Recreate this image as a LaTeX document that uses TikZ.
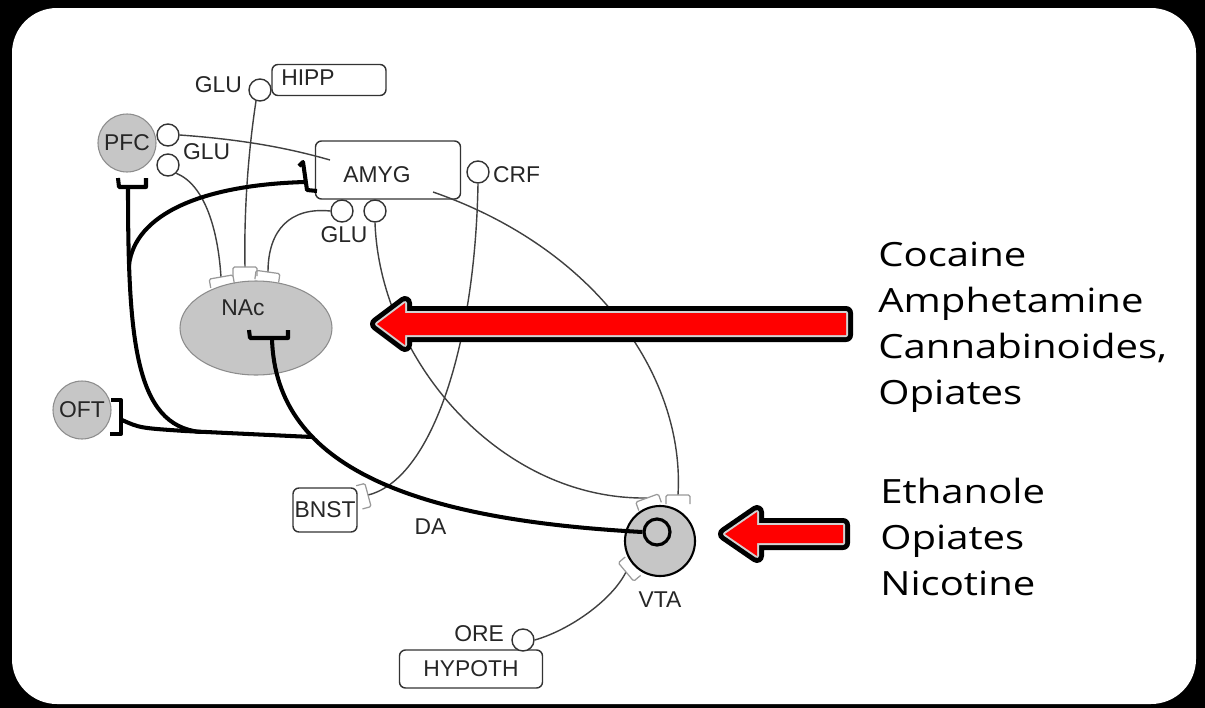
\documentclass[tikz,border=0pt]{standalone}
\usepackage{fontspec}
\setmainfont{Liberation Sans}
\newfontfamily\drugfont[FakeStretch=1.2]{Open Sans}
\usetikzlibrary{shapes.geometric}

\begin{document}
\begin{tikzpicture}[x=0.2mm, y=-0.2mm,
  nucleus/.style={circle, draw=gray!90, fill=gray!45, line width=0.6pt, inner sep=0pt,
    font=\fontsize{13}{15}\selectfont, text=black!85},
  region/.style={draw=black!80, fill=white, rounded corners=1.2mm, line width=0.8pt,
    inner sep=0pt, font=\fontsize{13}{15}\selectfont, text=black!85},
  term/.style={circle, draw=black!80, fill=white, line width=0.8pt, minimum size=4.4mm, inner sep=0pt},
  lbl/.style={font=\fontsize{13}{15}\selectfont, text=black!85, inner sep=0pt},
  fiber/.style={black!75, line width=0.8pt},
  tract/.style={black, line width=2.3pt, line join=round},
  postsyn/.style={gray!80, line width=0.7pt, rounded corners=0.3mm},
  drug/.style={font=\drugfont\fontsize{19}{26.2}\selectfont, align=left, anchor=north west, inner sep=0pt},
  drugarrow/.style={draw=black, line width=2.8mm, line join=round,
    postaction={draw=gray!35, line width=0.8mm, line join=round}, postaction={fill=red}},
  syn/.pic={\draw[postsyn] (-12,9) -- (-12,0) -- (12,0) -- (12,9);}
]

% frame
\fill[black] (0,0) rectangle (1205,708);
\fill[white, rounded corners=9mm] (12,8) rectangle (1196,704);

% regions
\node[nucleus, minimum size=11.6mm] (pfc) at (127,143) {PFC};
\node[nucleus, minimum size=11.6mm] (oft) at (82,410) {OFT};
\node[nucleus, ellipse, minimum width=30.4mm, minimum height=18.8mm,
  label={[lbl, xshift=-2.6mm, yshift=4mm]center:NAc}] (nac) at (256,328) {};
\node[nucleus, draw=black, line width=1.2pt, minimum size=14mm,
  label={[lbl, label distance=2.8mm]below:VTA}] (vta) at (660,541) {};
\node[circle, draw=black, line width=1.8pt, fill=gray!45, minimum size=5.2mm, inner sep=0pt] (vtain) at (657,532) {};

\node[region, minimum width=29mm, minimum height=11.6mm,
  label={[lbl, xshift=-2.2mm, yshift=-1mm]center:AMYG}] (amyg) at (388,170) {};
\node[region, minimum width=22.8mm, minimum height=6.2mm,
  label={[lbl, xshift=-4.2mm, yshift=0.4mm]center:HIPP}] (hipp) at (329,80) {};
\node[region, minimum width=12.8mm, minimum height=8.8mm] (bnst) at (325,510) {BNST};
\node[region, minimum width=28.6mm, minimum height=7.6mm] (hypoth) at (471,669) {HYPOTH};

% terminals
\node[term] (glupfc1) at (168,135) {};
\node[term, label={[lbl, label distance=0.6mm, yshift=2.6mm]right:GLU}] (glupfc2) at (168,165) {};
\node[term, label={[lbl, label distance=1.2mm, yshift=1mm]left:GLU}] (gluhipp) at (260,90) {};
\node[term, label={[lbl, label distance=0.6mm, xshift=0.4mm]below:GLU}] (gluamyg1) at (342,211) {};
\node[term] (gluamyg2) at (375,211) {};
\node[term, label={[lbl, label distance=0.6mm, yshift=-0.6mm]right:CRF}] (crf) at (478,172) {};
\node[term, label={[lbl, label distance=1.4mm, yshift=1.2mm]left:ORE}] (ore) at (523,640) {};

% synapse points
\coordinate (nacsyn1) at (221,277);
\coordinate (nacsyn2) at (245,267);
\coordinate (nacsyn3) at (268,272);
\coordinate (bnstsyn) at (368,495);
\coordinate (vtasyn1) at (647,498);
\coordinate (vtasyn2) at (678,495);
\coordinate (vtasyn3) at (626,572);
\coordinate (amygin1) at (330,160);
\coordinate (amygin2) at (433,192);
\coordinate (pfcsyn) at (128,187);
\coordinate (oftsyn) at (122,420);
\coordinate (amygsyn) at (305,182);
\coordinate (nacsyn) at (272,338);
\coordinate (dajoin) at (312,437);

% thin fibres
\draw[fiber] (glupfc1.east) .. controls (250,140) and (295,150) .. (amygin1);
\draw[fiber] (glupfc2.south east) .. controls (205,185) and (218,230) .. (nacsyn1);
\draw[fiber] (gluhipp.250) .. controls (247,160) and (244,220) .. (nacsyn2);
\draw[fiber] (gluamyg1.west) .. controls (290,207) and (268,230) .. (nacsyn3);
\draw[fiber] (gluamyg2.south) .. controls (380,360) and (500,500) .. (vtasyn1);
\draw[fiber] (crf.south) .. controls (475,350) and (430,480) .. (bnstsyn);
\draw[fiber] (amygin2) .. controls (600,250) and (685,380) .. (vtasyn2);
\draw[fiber] (ore.east) .. controls (570,630) and (612,600) .. (vtasyn3);

\pic[rotate=10] at (nacsyn1) {syn};
\pic at (nacsyn2) {syn};
\pic[rotate=-8] at (nacsyn3) {syn};
\pic[rotate=-75] at (bnstsyn) {syn};
\pic[rotate=20] at (vtasyn1) {syn};
\pic at (vtasyn2) {syn};
\pic[rotate=130] at (vtasyn3) {syn};

% thick tracts
\draw[tract] (118,178) -- (119,187) -- (146,187) -- (146,178);
\draw[tract] (111,400) -- (121,400) -- (121,434) -- (110,434);
\draw[tract] (299,166) -- (303,162) -- (307,190) -- (317,191);
\draw[tract] (249,330) -- (250,338) -- (288,338) -- (288,330);

\draw[tract] (nacsyn) .. controls (275,470) and (420,520) .. (vtain.west)
  node[lbl, pos=0.63, yshift=-5.2mm] (da) {DA};
\draw[tract] (pfcsyn) .. controls (128,340) and (135,425) .. (200,432);
\draw[tract] (amygsyn) .. controls (200,185) and (135,215) .. (129,265);
\draw[tract] (oftsyn) .. controls (140,428) .. (185,431) -- (dajoin);

% drugs
\draw[drugarrow] (846,313) -- (405,313) -- (405,303) -- (377,324) -- (405,345) -- (405,335) -- (846,335) -- cycle;
\draw[drugarrow] (843,525) -- (757,525) -- (757,512) -- (725,534) -- (757,556) -- (757,543) -- (843,543) -- cycle;

\node[drug] (drugs1) at (878,242) {Cocaine\\Amphetamine\\Cannabinoides,\\Opiates};
\node[drug] (drugs2) at (880,478) {Ethanole\\Opiates\\Nicotine};

\end{tikzpicture}
\end{document}
